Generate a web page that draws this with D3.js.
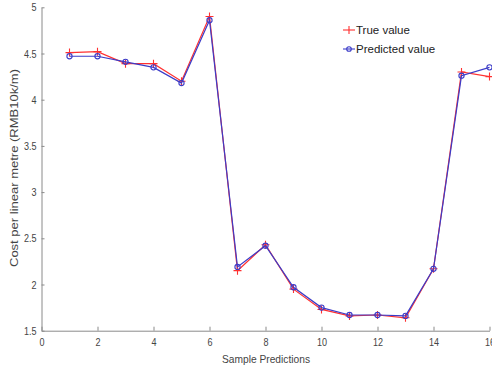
<!DOCTYPE html>
<html><head><meta charset="utf-8">
<script src="https://cdn.jsdelivr.net/npm/d3@7"></script>
<style>body{margin:0;background:#fff}svg{display:block}text{font-family:"Liberation Sans",Arial,sans-serif}</style>
</head><body>
<script>
const samples = [1,2,3,4,5,6,7,8,9,10,11,12,13,14,15,16];
const trueValues = [4.51,4.52,4.39,4.39,4.20,4.90,2.15,2.43,1.95,1.73,1.66,1.67,1.64,2.17,4.30,4.25];
const predictedValues = [4.47,4.47,4.41,4.35,4.18,4.86,2.19,2.42,1.97,1.75,1.67,1.67,1.66,2.17,4.26,4.35];
const xTicks = [0,2,4,6,8,10,12,14,16];
const yTicks = [1.5,2,2.5,3,3.5,4,4.5,5];

const W = 492, H = 369;
const svg = d3.select("body").append("svg").attr("width", W).attr("height", H);
const x = d3.scaleLinear().domain([0,16]).range([41.5, 489.5]);
const y = d3.scaleLinear().domain([1.5,5]).range([330.7, 7.3]);
const axisCol = "#8a8a8a", textCol = "#444";

const xa = svg.append("g").attr("transform", `translate(0,${y(1.5)})`)
  .call(d3.axisBottom(x).tickValues(xTicks).tickSizeInner(-4).tickSizeOuter(0).tickPadding(8).tickFormat(d3.format("d")));
const ya = svg.append("g").attr("transform", `translate(${x(0)},0)`)
  .call(d3.axisLeft(y).tickValues(yTicks).tickSizeInner(-3).tickSizeOuter(0).tickPadding(5).tickFormat(d => d));
[xa, ya].forEach(g => {
  g.select(".domain").attr("stroke", axisCol);
  g.selectAll(".tick line").attr("stroke", axisCol);
  g.selectAll(".tick text").attr("fill", textCol).attr("font-size", 11).attr("font-family", '"Liberation Sans",Arial,sans-serif')
    .each(function(){ const L = this.getComputedTextLength(); d3.select(this).attr("textLength", L*0.82).attr("lengthAdjust", "spacingAndGlyphs"); });
});

svg.append("text").attr("x", 266).attr("y", 363).attr("text-anchor", "middle")
  .attr("font-size", 11).attr("fill", textCol).attr("textLength", 88).attr("lengthAdjust", "spacingAndGlyphs").text("Sample Predictions");
svg.append("text").attr("transform", "translate(18,168) rotate(-90)").attr("text-anchor", "middle")
  .attr("font-size", 11.5).attr("fill", textCol).attr("textLength", 198).attr("lengthAdjust", "spacingAndGlyphs").text("Cost per linear metre (RMB10k/m)");

const redCol = "#ff3030", blueCol = "#3c3cc8";
const line = d3.line().x((d,i) => x(samples[i])).y(d => y(d));
svg.append("path").datum(trueValues).attr("d", line).attr("fill", "none").attr("stroke", redCol).attr("stroke-width", 1.2);
svg.append("g").selectAll("path").data(trueValues).join("path")
  .attr("d", (d,i) => { const cx = x(samples[i]), cy = y(d); return `M${cx-4},${cy}H${cx+4}M${cx},${cy-4}V${cy+4}`; })
  .attr("stroke", redCol).attr("stroke-width", 1.1);

svg.append("path").datum(predictedValues).attr("d", line).attr("fill", "none").attr("stroke", blueCol).attr("stroke-width", 1.2);
svg.append("g").selectAll("circle").data(predictedValues).join("circle")
  .attr("cx", (d,i) => x(samples[i])).attr("cy", d => y(d)).attr("r", 2.6)
  .attr("fill", "none").attr("stroke", blueCol).attr("stroke-width", 1.1);

// legend
const lg = svg.append("g");
lg.append("line").attr("x1", 343).attr("x2", 355).attr("y1", 30).attr("y2", 30).attr("stroke", redCol).attr("stroke-width", 1.1);
lg.append("path").attr("d", "M349,26V34").attr("stroke", redCol).attr("stroke-width", 1.1);
lg.append("text").attr("x", 356).attr("y", 34).attr("font-size", 11.5).attr("fill", "#222").text("True value");
lg.append("line").attr("x1", 343).attr("x2", 355).attr("y1", 49).attr("y2", 49).attr("stroke", blueCol).attr("stroke-width", 1.1);
lg.append("circle").attr("cx", 349).attr("cy", 49).attr("r", 2.3).attr("fill", "none").attr("stroke", blueCol).attr("stroke-width", 1.1);
lg.append("text").attr("x", 356).attr("y", 53).attr("font-size", 11.5).attr("fill", "#222").text("Predicted value");
</script>
</body></html>
